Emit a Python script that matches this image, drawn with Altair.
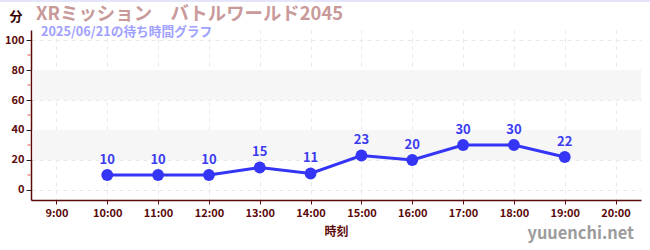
import altair as alt
import pandas as pd

hours = [10, 11, 12, 13, 14, 15, 16, 17, 18, 19]
waits = [10, 10, 10, 15, 11, 23, 20, 30, 30, 22]
x_ticks = [9, 10, 11, 12, 13, 14, 15, 16, 17, 18, 19, 20]
y_ticks = [0, 20, 40, 60, 80, 100]
minor_y = [10, 30, 50, 70, 90]
band_lo = [20, 60]
band_hi = [40, 80]

W, H = 610, 170
df = pd.DataFrame({"hour": hours, "wait": waits})
bands = pd.DataFrame({"lo": band_lo, "hi": band_hi})

xs = alt.Scale(domain=[8.5, 20.5], nice=False, zero=False)
ys = alt.Scale(domain=[-6.7, 106.7], nice=False, zero=False)
axis_col = "#5c0a0a"

y_axis = alt.Axis(values=y_ticks, grid=True, gridDash=[4, 4], gridColor="#e8e8e8",
                  domainColor=axis_col, domainWidth=1.5, tickColor="#222", tickSize=5,
                  labelColor=axis_col, labelFontSize=11, labelFontWeight="bold",
                  labelFont="Noto Sans CJK JP", labelPadding=2, labelOverlap=False)

band_layer = alt.Chart(bands).mark_rect(color="#f6f6f6").encode(
    x=alt.value(1.5), x2=alt.value(W),
    y=alt.Y("lo:Q", scale=ys, axis=y_axis, title=None), y2="hi:Q",
)

base = alt.Chart(df)
x_enc = alt.X("hour:Q", scale=xs, title="時刻",
              axis=alt.Axis(values=x_ticks, labelExpr="datum.value + ':00'",
                            grid=True, gridDash=[4, 4], gridColor="#e8e8e8",
                            domainColor=axis_col, domainWidth=1.5, tickColor=axis_col, tickSize=4,
                            labelColor=axis_col, labelFontSize=11, labelFontWeight="bold",
                            labelFont="Noto Sans CJK JP", labelPadding=3, labelOverlap=False,
                            titleColor=axis_col, titleFont="Noto Sans CJK JP",
                            titleFontSize=12, titleFontWeight="bold", titlePadding=8))
y_enc = alt.Y("wait:Q", scale=ys, title=None, axis=y_axis)

line = base.mark_line(color="#3535f5", strokeWidth=3).encode(x=x_enc, y=y_enc)
pts = base.mark_circle(color="#3535f5", size=140, opacity=1).encode(x="hour:Q", y=y_enc)
lbl = base.mark_text(color="#3b3bf0", fontSize=13, fontWeight="bold", dy=-15,
                     font="Noto Sans CJK JP").encode(x="hour:Q", y=y_enc, text="wait:Q")

minor = pd.DataFrame({"m": minor_y})
minor_ticks = alt.Chart(minor).mark_tick(color="#e00000", orient="horizontal", size=3,
                                         thickness=1).encode(
    x=alt.value(-2), y=alt.Y("m:Q", scale=ys, axis=y_axis, title=None))

def txt(s, x, y, **kw):
    return alt.Chart(pd.DataFrame({"t": [s]})).mark_text(font="Noto Sans CJK JP", **kw).encode(
        x=alt.value(x), y=alt.value(y), text="t:N")

title = txt("XRミッション　バトルワールド2045", 5, -16, align="left", baseline="middle",
            fontSize=18.4, fontWeight="bold", color="#c99a9a")
sub = txt("2025/06/21の待ち時間グラフ", 10, 1.5, align="left", baseline="middle",
          fontSize=12.7, fontWeight="bold", color="#a0a0ff")
fun = txt("分", -15, -13, align="center", baseline="middle", fontSize=13,
          fontWeight="bold", color="#3a0000")
site = txt("yuuenchi.net", 603, 204, align="right", baseline="middle", fontSize=16.4,
           fontWeight="bold", color="#9c9c9c")
topline = alt.Chart(pd.DataFrame({"a": [0]})).mark_rule(color="#e4e4fa", strokeWidth=2).encode(
    x=alt.value(-31), x2=alt.value(619), y=alt.value(-29))

chart = alt.layer(band_layer, line, pts, lbl, minor_ticks, title, sub, fun, site, topline).properties(
    width=W, height=H,
    autosize=alt.AutoSizeParams(type="none"),
    padding={"left": 31, "top": 30, "right": 9, "bottom": 50},
).configure_view(stroke=None)

chart.save("out.html", embed_options={"renderer": "svg", "actions": False})
